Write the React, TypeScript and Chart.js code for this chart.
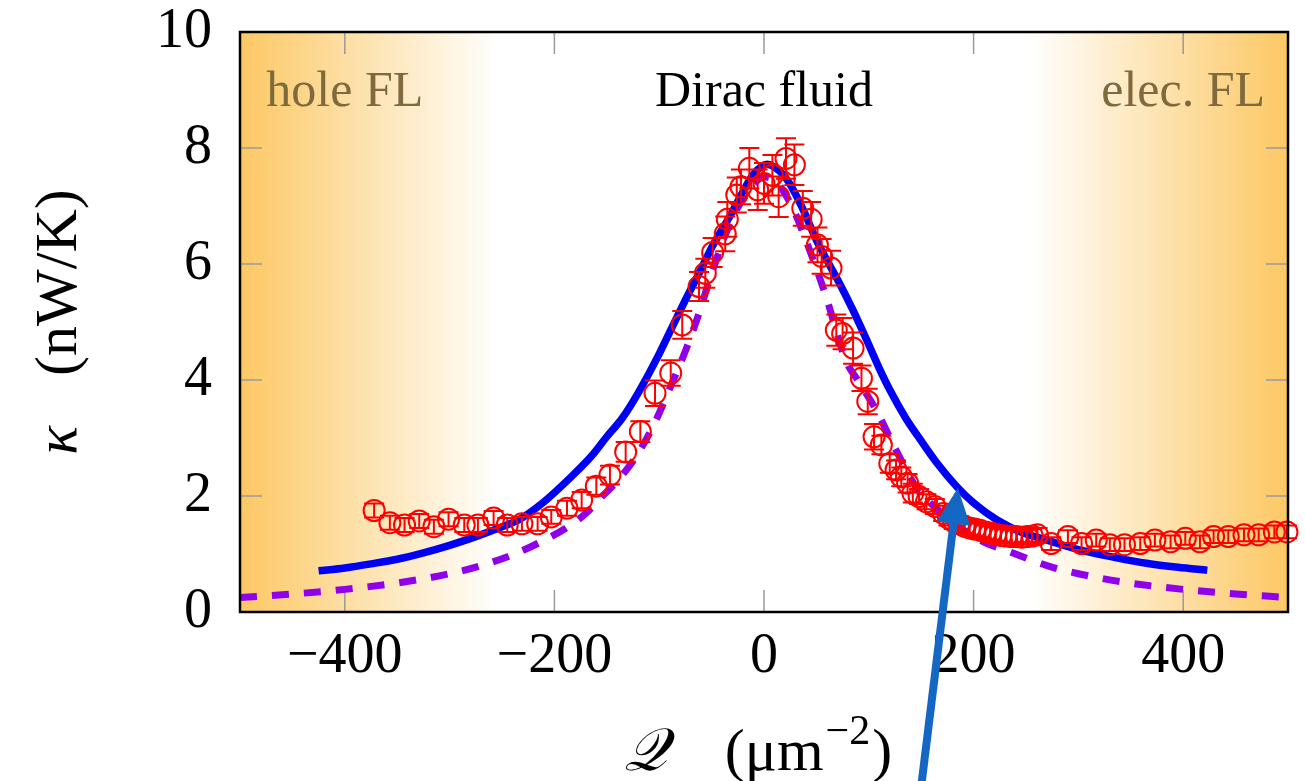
import React, { useEffect, useRef } from 'react';
import { Chart, registerables } from 'chart.js';

Chart.register(...registerables);

const X_MIN = -500;
const X_MAX = 500;
const Y_MIN = 0;
const Y_MAX = 10;
const xTickValues = [-400, -200, 0, 200, 400];
const yTickValues = [0, 2, 4, 6, 8, 10];

// Measured thermal conductivity (red circles with error bars)
const measQ = [
  -372, -357, -343, -329, -315, -301, -286, -273, -258, -245, -231, -216, -203, -188, -174, -160, -147, -132, -118, -104,
  -89, -78, -62, -56, -49, -37, -35, -26, -22, -14,
  -6, 0, 8, 14, 21, 29, 37, 45, 51, 55,
  64, 69, 75, 85, 93, 99, 105, 112, 120, 126,
  131, 137, 142, 148, 155, 163, 171, 176, 181, 186,
  191, 196, 201, 206, 211, 216, 221, 226, 231, 236,
  241, 246, 251, 256, 261, 274, 290, 303, 317, 330,
  344, 359, 373, 388, 402, 416, 429, 443, 458, 472,
  487, 499,
];
const measK = [
  1.75, 1.54, 1.5, 1.57, 1.47, 1.6, 1.5, 1.5, 1.62, 1.5, 1.52, 1.52, 1.64, 1.79, 1.93, 2.17, 2.36, 2.76, 3.11, 3.77,
  4.12, 4.95, 5.61, 5.84, 6.2, 6.52, 6.77, 7.19, 7.33, 7.65,
  7.28, 7.39, 7.53, 7.16, 7.82, 7.71, 6.96, 6.77, 6.33, 6.13,
  5.93, 4.86, 4.8, 4.55, 4.03, 3.63, 3.02, 2.88, 2.56, 2.45,
  2.33, 2.22, 2.05, 1.99, 1.9, 1.82, 1.7, 1.62, 1.56, 1.52,
  1.48, 1.45, 1.43, 1.41, 1.38, 1.36, 1.34, 1.32, 1.31, 1.3,
  1.3, 1.29, 1.3, 1.31, 1.33, 1.18, 1.3, 1.18, 1.24, 1.16,
  1.16, 1.18, 1.24, 1.21, 1.27, 1.21, 1.3, 1.3, 1.33, 1.33,
  1.38, 1.38,
];
const measErr = [
  0.12, 0.12, 0.12, 0.12, 0.12, 0.12, 0.12, 0.12, 0.12, 0.12, 0.12, 0.12, 0.12, 0.13, 0.14, 0.15, 0.16, 0.17, 0.18, 0.22,
  0.22, 0.24, 0.25, 0.25, 0.25, 0.3, 0.3, 0.3, 0.3, 0.35,
  0.35, 0.35, 0.35, 0.35, 0.35, 0.35, 0.3, 0.3, 0.3, 0.3,
  0.3, 0.27, 0.27, 0.27, 0.22, 0.22, 0.22, 0.16, 0.16, 0.16,
  0.16, 0.16, 0.16, 0.13, 0.13, 0.13, 0.13, 0.13, 0.13, 0.13,
  0.12, 0.12, 0.12, 0.12, 0.12, 0.12, 0.12, 0.12, 0.12, 0.12,
  0.12, 0.12, 0.12, 0.12, 0.12, 0.11, 0.11, 0.11, 0.11, 0.11,
  0.11, 0.11, 0.11, 0.11, 0.11, 0.11, 0.11, 0.11, 0.11, 0.11,
  0.11, 0.11,
];

// Blue solid theory curve
const blueQ = [
  -425, -400, -375, -350, -325, -300, -275, -250, -234, -210, -184, -165, -151, -135, -120, -100, -88, -75, -62, -48,
  -33, -20, -10, 3, 15, 24, 37, 50, 62, 72, 85, 98, 110, 120, 135, 150, 165, 184, 200, 222,
  245, 270, 301, 335, 365, 395, 423,
];
const blueK = [
  0.71, 0.76, 0.83, 0.91, 1.02, 1.15, 1.3, 1.47, 1.59, 1.9, 2.33, 2.68, 3.0, 3.35, 3.78, 4.45, 4.9, 5.38, 5.84, 6.35,
  6.81, 7.25, 7.55, 7.72, 7.6, 7.4, 6.95, 6.41, 6.0, 5.67, 5.2, 4.69, 4.2, 3.83, 3.35, 2.95, 2.57, 2.16, 1.88, 1.59,
  1.38, 1.24, 1.07, 0.94, 0.84, 0.77, 0.72,
];

// Purple dashed theory curve
const purpleQ = [
  -500, -450, -400, -350, -300, -270, -241, -215, -187, -170, -158, -139, -120, -103, -90, -75, -62, -50, -31, -15,
  0, 10, 27, 40, 59, 78, 90, 107, 126, 145, 170, 206, 237, 270, 300, 349, 400, 450, 500,
];
const purpleK = [
  0.25, 0.31, 0.39, 0.5, 0.66, 0.8, 0.98, 1.19, 1.47, 1.7, 1.93, 2.28, 2.74, 3.31, 3.85, 4.5, 5.15, 5.84, 6.76, 7.25,
  7.5, 7.45, 6.98, 6.41, 5.45, 4.34, 3.98, 3.48, 2.79, 2.16, 1.7, 1.24, 1.02, 0.8, 0.66, 0.5, 0.39, 0.31, 0.25,
];

// Region shading and labels
const shadeEdgeQ = [-253, 253];
const regionLabels = ['hole FL', 'Dirac fluid', 'elec. FL'];
const regionLabelQ = [-400, 0, 400];
const regionLabelK = 8.95;
const regionLabelColors = ['#7f6a3d', '#000000', '#7f6a3d'];

// Arrow annotation (tip and tail in data units)
const arrowTip = { q: 185, k: 2.14 };
const arrowTail = { q: 148, k: -3.3 };

const SERIF = '"Liberation Serif", "Times New Roman", serif';
const ORANGE = 'rgb(252,200,100)';

const fmtTick = (v: number) => (v < 0 ? '\u2212' + Math.abs(v) : String(v));

const decorPlugin = {
  id: 'decor',
  beforeDatasetsDraw(chart: any) {
    const { ctx, chartArea: a, scales } = chart;
    const x = scales.x;
    const y = scales.y;
    ctx.save();
    ctx.beginPath();
    ctx.rect(a.left, a.top, a.right - a.left, a.bottom - a.top);
    ctx.clip();
    ctx.fillStyle = '#ffffff';
    ctx.fillRect(a.left, a.top, a.right - a.left, a.bottom - a.top);
    const l0 = x.getPixelForValue(X_MIN);
    const l1 = x.getPixelForValue(shadeEdgeQ[0]);
    const gl = ctx.createLinearGradient(l0, 0, l1, 0);
    gl.addColorStop(0, ORANGE);
    gl.addColorStop(1, 'rgb(255,255,255)');
    ctx.fillStyle = gl;
    ctx.fillRect(l0, a.top, l1 - l0, a.bottom - a.top);
    const r0 = x.getPixelForValue(shadeEdgeQ[1]);
    const r1 = x.getPixelForValue(X_MAX);
    const gr = ctx.createLinearGradient(r0, 0, r1, 0);
    gr.addColorStop(0, 'rgb(255,255,255)');
    gr.addColorStop(1, ORANGE);
    ctx.fillStyle = gr;
    ctx.fillRect(r0, a.top, r1 - r0, a.bottom - a.top);

    // inward tick marks
    ctx.strokeStyle = '#9a9a9a';
    ctx.lineWidth = 1.5;
    const TL = 22;
    ctx.beginPath();
    xTickValues.forEach((v) => {
      const px = x.getPixelForValue(v);
      ctx.moveTo(px, a.bottom);
      ctx.lineTo(px, a.bottom - TL);
      ctx.moveTo(px, a.top);
      ctx.lineTo(px, a.top + TL);
    });
    yTickValues.forEach((v) => {
      const py = y.getPixelForValue(v);
      ctx.moveTo(a.left, py);
      ctx.lineTo(a.left + TL, py);
      ctx.moveTo(a.right, py);
      ctx.lineTo(a.right - TL, py);
    });
    ctx.stroke();

    // region labels
    ctx.font = `50px ${SERIF}`;
    ctx.textAlign = 'center';
    ctx.textBaseline = 'middle';
    regionLabels.forEach((t, i) => {
      ctx.fillStyle = regionLabelColors[i];
      ctx.fillText(t, x.getPixelForValue(regionLabelQ[i]), y.getPixelForValue(regionLabelK));
    });
    ctx.restore();
  },
  afterDatasetsDraw(chart: any) {
    const { ctx, scales } = chart;
    const x = scales.x;
    const y = scales.y;
    ctx.save();
    ctx.strokeStyle = '#ff0000';
    ctx.lineWidth = 2;
    const CAP = 10;
    ctx.beginPath();
    measQ.forEach((q, i) => {
      const px = x.getPixelForValue(q);
      const pTop = y.getPixelForValue(measK[i] + measErr[i]);
      const pBot = y.getPixelForValue(measK[i] - measErr[i]);
      ctx.moveTo(px, pTop);
      ctx.lineTo(px, pBot);
      ctx.moveTo(px - CAP, pTop);
      ctx.lineTo(px + CAP, pTop);
      ctx.moveTo(px - CAP, pBot);
      ctx.lineTo(px + CAP, pBot);
    });
    ctx.stroke();
    ctx.restore();
  },
  afterDraw(chart: any) {
    const { ctx, chartArea: a, scales } = chart;
    const x = scales.x;
    const y = scales.y;
    ctx.save();
    // frame
    ctx.strokeStyle = '#000';
    ctx.lineWidth = 2.5;
    ctx.strokeRect(a.left, a.top, a.right - a.left, a.bottom - a.top);

    // arrow
    const tx = x.getPixelForValue(arrowTip.q);
    const ty = y.getPixelForValue(arrowTip.k);
    const sx = x.getPixelForValue(arrowTail.q);
    const sy = y.getPixelForValue(arrowTail.k);
    const ang = Math.atan2(ty - sy, tx - sx);
    const HL = 36;
    const HW = 17;
    const bx = tx - HL * Math.cos(ang);
    const by = ty - HL * Math.sin(ang);
    ctx.strokeStyle = 'rgb(20,104,196)';
    ctx.fillStyle = 'rgb(20,104,196)';
    ctx.lineWidth = 8;
    ctx.lineCap = 'butt';
    ctx.beginPath();
    ctx.moveTo(sx, sy);
    ctx.lineTo(bx + 2 * Math.cos(ang), by + 2 * Math.sin(ang));
    ctx.stroke();
    ctx.beginPath();
    ctx.moveTo(tx, ty);
    ctx.lineTo(bx - HW * Math.sin(ang), by + HW * Math.cos(ang));
    ctx.lineTo(bx + HW * Math.sin(ang), by - HW * Math.cos(ang));
    ctx.closePath();
    ctx.fill();

    // y axis title
    ctx.fillStyle = '#000';
    ctx.textBaseline = 'alphabetic';
    const cy = (a.top + a.bottom) / 2;
    ctx.save();
    ctx.translate(76, cy);
    ctx.rotate(-Math.PI / 2);
    ctx.font = `italic 60px ${SERIF}`;
    const kW = ctx.measureText('\u03ba').width;
    ctx.font = `60px ${SERIF}`;
    const uW = ctx.measureText('(nW/K)').width;
    const gap = 50;
    const total = kW + gap + uW;
    let cx = -total / 2;
    ctx.font = `italic 60px ${SERIF}`;
    ctx.textAlign = 'left';
    ctx.fillText('\u03ba', cx, 0);
    cx += kW + gap;
    ctx.font = `60px ${SERIF}`;
    ctx.fillText('(nW/K)', cx, 0);
    ctx.restore();

    // x axis title
    const xc = (a.left + a.right) / 2;
    const base = 770;
    ctx.textAlign = 'left';
    ctx.font = `italic 60px ${SERIF}`;
    const qW = ctx.measureText('\ud835\udcac').width;
    ctx.font = `60px ${SERIF}`;
    const p1 = ctx.measureText('(\u03bcm').width;
    ctx.font = `42px ${SERIF}`;
    const supW = ctx.measureText('\u22122').width;
    ctx.font = `60px ${SERIF}`;
    const p2 = ctx.measureText(')').width;
    const gap2 = 58;
    const tot2 = qW + gap2 + p1 + supW + p2;
    let xx = xc - 8 - tot2 / 2;
    ctx.font = `italic 60px ${SERIF}`;
    ctx.fillText('\ud835\udcac', xx, base);
    xx += qW + gap2;
    ctx.font = `60px ${SERIF}`;
    ctx.fillText('(\u03bcm', xx, base);
    xx += p1 + 2;
    ctx.font = `42px ${SERIF}`;
    ctx.fillText('\u22122', xx, base - 26);
    xx += supW + 2;
    ctx.font = `60px ${SERIF}`;
    ctx.fillText(')', xx, base);
    ctx.restore();
  },
};

export default function App() {
  const ref = useRef<HTMLCanvasElement | null>(null);
  useEffect(() => {
    if (!ref.current) return;
    const chart = new Chart(ref.current, {
      type: 'line',
      data: {
        datasets: [
          {
            label: 'measured',
            data: measQ.map((q, i) => ({ x: q, y: measK[i] })),
            showLine: false,
            pointStyle: 'circle',
            pointRadius: 10.5,
            pointBorderWidth: 2,
            pointBorderColor: '#ff0000',
            pointBackgroundColor: 'rgba(0,0,0,0)',
            borderColor: '#ff0000',
            clip: false,
          } as any,
          {
            label: 'theory solid',
            data: blueQ.map((q, i) => ({ x: q, y: blueK[i] })),
            borderColor: 'rgb(0,0,245)',
            borderWidth: 7.5,
            pointRadius: 0,
            cubicInterpolationMode: 'monotone',
            fill: false,
          },
          {
            label: 'theory dashed',
            data: purpleQ.map((q, i) => ({ x: q, y: purpleK[i] })),
            borderColor: 'rgb(145,0,235)',
            borderWidth: 7,
            borderDash: [17, 15],
            pointRadius: 0,
            cubicInterpolationMode: 'monotone',
            fill: false,
          },
        ],
      },
      options: {
        animation: false,
        responsive: false,
        devicePixelRatio: 1,
        layout: { padding: { left: 0, top: 32, right: 17, bottom: 0 } },
        plugins: { legend: { display: false }, tooltip: { enabled: false } },
        scales: {
          x: {
            type: 'linear',
            min: X_MIN,
            max: X_MAX,
            afterBuildTicks: (s: any) => {
              s.ticks = xTickValues.map((v) => ({ value: v }));
            },
            afterFit: (s: any) => {
              s.height = 169;
              s.paddingLeft = 0;
              s.paddingRight = 0;
            },
            grid: { display: false },
            border: { display: false },
            ticks: {
              autoSkip: false,
              maxRotation: 0,
              padding: 4,
              color: '#000',
              font: { family: SERIF, size: 56 },
              callback: (v: any) => fmtTick(Number(v)),
            },
          },
          y: {
            type: 'linear',
            min: Y_MIN,
            max: Y_MAX,
            afterBuildTicks: (s: any) => {
              s.ticks = yTickValues.map((v) => ({ value: v }));
            },
            afterFit: (s: any) => {
              s.width = 240;
              s.paddingTop = 0;
              s.paddingBottom = 0;
            },
            grid: { display: false },
            border: { display: false },
            ticks: {
              autoSkip: false,
              padding: 20,
              color: '#000',
              font: { family: SERIF, size: 56 },
              callback: (v: any) => fmtTick(Number(v)),
            },
          },
        },
      },
      plugins: [decorPlugin],
    });
    return () => chart.destroy();
  }, []);
  return (
    <div style={{ position: 'fixed', left: 0, top: 0, width: 1305, height: 781, overflow: 'hidden', background: '#fff' }}>
      <canvas ref={ref} width={1305} height={781} />
    </div>
  );
}
